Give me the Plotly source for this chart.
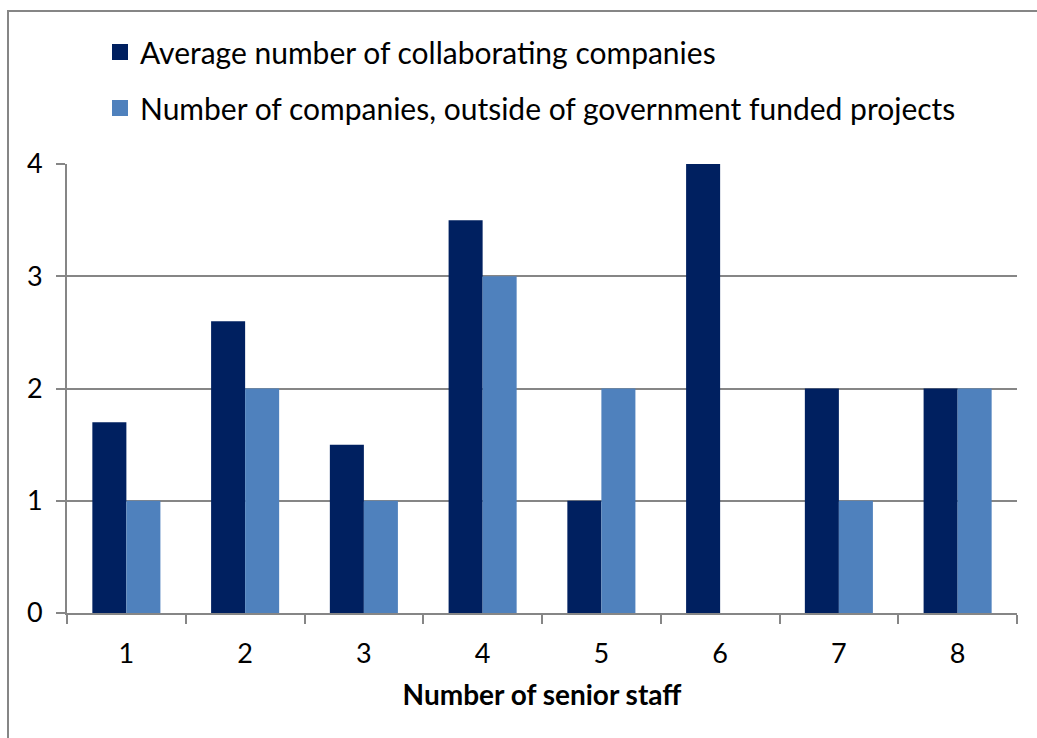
import plotly.graph_objects as go

categories = ["1", "2", "3", "4", "5", "6", "7", "8"]
avg_collab = [1.7, 2.6, 1.5, 3.5, 1, 4, 2, 2]
outside_gov = [1, 2, 1, 3, 2, 0, 1, 2]
series_names = ["Average number of collaborating companies",
                "Number of companies, outside of government funded projects"]
colors = ["#002060", "#4F81BD"]
y_ticks = [0, 1, 2, 3, 4]

FONT = "Lato"
GRID = "#868686"

W, H = 1037, 738
l, r, t, b = 67, 20, 164, 125
pw, ph = W - l - r, H - t - b
def px_x(p): return (p - l) / pw
def px_y(p): return (H - b - p) / ph

fig = go.Figure()
fig.add_trace(go.Bar(x=categories, y=avg_collab, name=series_names[0],
                     marker=dict(color=colors[0], line=dict(width=0)), showlegend=False))
fig.add_trace(go.Bar(x=categories, y=outside_gov, name=series_names[1],
                     marker=dict(color=colors[1], line=dict(width=0)), showlegend=False))
# legend entries
for i, (nm, c) in enumerate(zip(series_names, colors)):
    fig.add_trace(go.Scatter(x=[None], y=[None], mode="markers", name=nm,
                             legendgroup=f"g{i}",
                             marker=dict(symbol="square", size=17, color=c)))

fig.update_layout(
    width=W, height=H,
    margin=dict(l=l, r=r, t=t, b=b),
    paper_bgcolor="white", plot_bgcolor="white",
    font=dict(family=FONT, size=28, color="black"),
    barmode="group", bargap=0.427, bargroupgap=0,
    legend=dict(x=px_x(100), xanchor="left", y=px_y(26), yanchor="top",
                xref="paper", yref="paper",
                orientation="v", traceorder="grouped", tracegroupgap=14,
                font=dict(family=FONT, size=30), bgcolor="rgba(0,0,0,0)"),
    showlegend=True,
    xaxis=dict(type="category", tickson="boundaries", ticks="outside", ticklen=9,
               tickcolor=GRID, tickwidth=2, showline=True, linecolor=GRID, linewidth=2,
               showgrid=False, ticklabelstandoff=16,
               tickfont=dict(family=FONT, size=27),
               title=dict(text="<b>Number of senior staff</b>", standoff=17,
                          font=dict(family=FONT, size=28))),
    yaxis=dict(range=[0, 4], tickvals=y_ticks, ticks="outside", ticklen=9,
               tickcolor=GRID, tickwidth=2, showline=True, linecolor=GRID, linewidth=2,
               showgrid=True, gridcolor=GRID, gridwidth=2, zeroline=False,
               ticklabelstandoff=8, tickfont=dict(family=FONT, size=27)),
)

# chart border (top and left visible, right/bottom outside view)
fig.add_shape(type="rect", xref="paper", yref="paper",
              x0=px_x(8), x1=px_x(1045), y0=px_y(746), y1=px_y(11),
              line=dict(color=GRID, width=2), fillcolor="rgba(0,0,0,0)", layer="below")

fig.write_html("out.html")
